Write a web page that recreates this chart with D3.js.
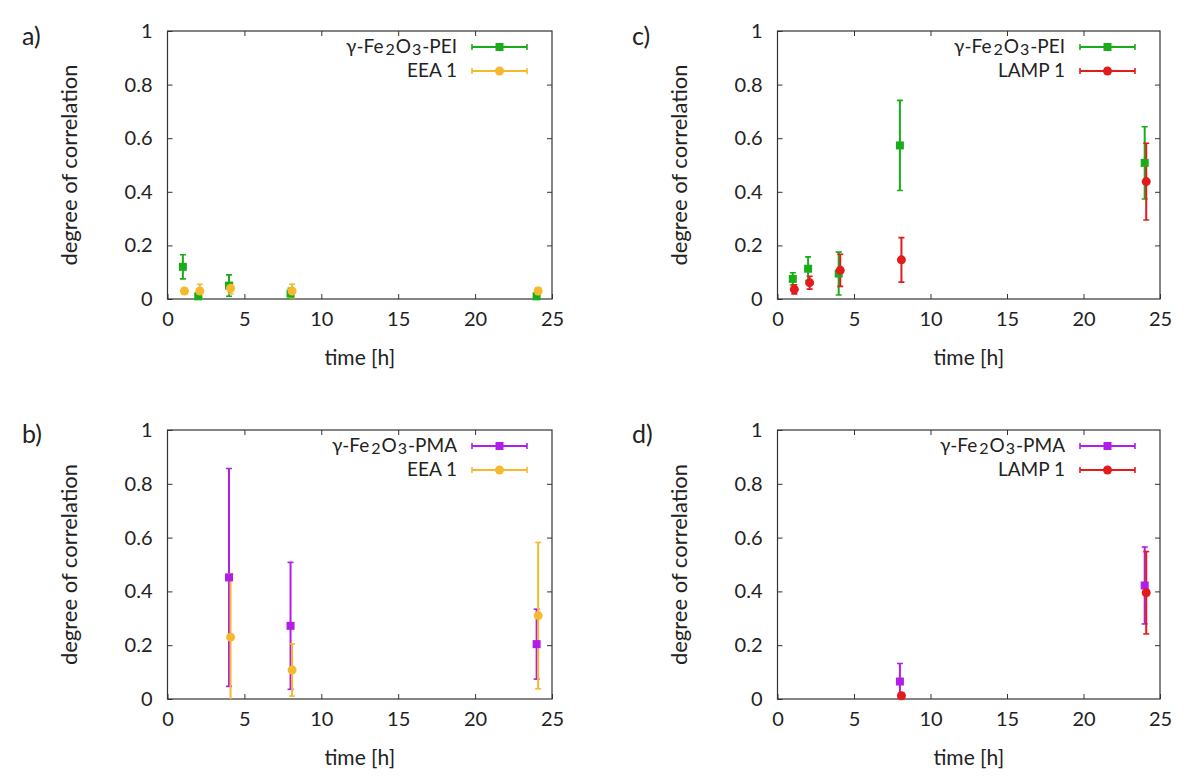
<!DOCTYPE html>
<html><head><meta charset="utf-8">
<script src="https://cdn.jsdelivr.net/npm/d3@7"></script>
<style>body{margin:0;background:#fff}svg{display:block}text{font-family:Lato,"Open Sans",sans-serif;fill:#222}</style>
</head><body><svg id="c" width="1200" height="777"></svg>
<script>
// ---- data ----
const xTicks = [0,5,10,15,20,25];
const yTicks = [0,0.2,0.4,0.6,0.8,1];
const yTickLabels = ["0","0.2","0.4","0.6","0.8","1"];

// panel a: PEI vs EEA 1
const aPEI_t = [1,2,4,8,24];
const aPEI_y = [0.12,0.01,0.05,0.02,0.01];
const aPEI_e = [0.045,0.012,0.04,0.02,0.012];
const aEEA_t = [1.1,2.1,4.1,8.1,24.1];
const aEEA_y = [0.03,0.03,0.04,0.03,0.03];
const aEEA_e = [0.01,0.025,0.02,0.025,0.012];

// panel b: PMA vs EEA 1
const bPMA_t = [4,8,24];
const bPMA_y = [0.452,0.272,0.204];
const bPMA_e = [0.405,0.236,0.13];
const bEEA_t = [4.1,8.1,24.1];
const bEEA_y = [0.23,0.108,0.31];
const bEEA_e = [0.235,0.097,0.272];

// panel c: PEI vs LAMP 1
const cPEI_t = [1,2,4,8,24];
const cPEI_y = [0.075,0.113,0.095,0.573,0.508];
const cPEI_e = [0.023,0.044,0.08,0.168,0.135];
const cLAMP_t = [1.1,2.1,4.1,8.1,24.1];
const cLAMP_y = [0.036,0.061,0.107,0.146,0.438];
const cLAMP_e = [0.017,0.024,0.06,0.083,0.143];

// panel d: PMA vs LAMP 1
const dPMA_t = [8,24];
const dPMA_y = [0.065,0.422];
const dPMA_e = [0.067,0.143];
const dLAMP_t = [8.1,24.1];
const dLAMP_y = [0.012,0.395];
const dLAMP_e = [0.01,0.153];

const COL = {green:"#1aad1a", yellow:"#f6b92e", purple:"#b01ee8", red:"#e21b1b"};

const svg = d3.select("#c");

function series(t,y,e,color,shape,name){
  return {pts:t.map((d,i)=>({t:d,y:y[i],e:e[i]})),color,shape,name};
}

const panels = [
  {label:"a)", box:[167.5,31,552,299], lx:22, ly:45,
   s:[series(aPEI_t,aPEI_y,aPEI_e,COL.green,"sq","PEI"), series(aEEA_t,aEEA_y,aEEA_e,COL.yellow,"ci","EEA 1")]},
  {label:"b)", box:[167.5,430,552,699], lx:22, ly:443,
   s:[series(bPMA_t,bPMA_y,bPMA_e,COL.purple,"sq","PMA"), series(bEEA_t,bEEA_y,bEEA_e,COL.yellow,"ci","EEA 1")]},
  {label:"c)", box:[777.5,31,1160,299], lx:632, ly:45,
   s:[series(cPEI_t,cPEI_y,cPEI_e,COL.green,"sq","PEI"), series(cLAMP_t,cLAMP_y,cLAMP_e,COL.red,"ci","LAMP 1")]},
  {label:"d)", box:[777.5,430,1160,699], lx:632, ly:443,
   s:[series(dPMA_t,dPMA_y,dPMA_e,COL.purple,"sq","PMA"), series(dLAMP_t,dLAMP_y,dLAMP_e,COL.red,"ci","LAMP 1")]}
];

function marker(g,shape,color,cx,cy){
  if(shape==="sq"){
    g.append("rect").attr("x",cx-4).attr("y",cy-4).attr("width",8).attr("height",8).attr("fill",color);
  } else {
    g.append("circle").attr("cx",cx).attr("cy",cy).attr("r",4.5).attr("fill",color);
  }
}

panels.forEach((p,pi)=>{
  const [x0,y0,x1,y1] = p.box;
  const x = d3.scaleLinear().domain([0,25]).range([x0,x1]);
  const y = d3.scaleLinear().domain([0,1]).range([y1,y0]);
  const g = svg.append("g");

  // panel letter
  g.append("text").attr("x",p.lx).attr("y",p.ly).attr("font-size",25).text(p.label);

  // axes with inward ticks on all sides
  const fs = 20;
  const ax = g.append("g").attr("transform",`translate(0,${y1})`)
    .call(d3.axisBottom(x).tickValues(xTicks).tickSize(-5).tickPadding(13).tickFormat(d3.format("d")));
  const axT = g.append("g").attr("transform",`translate(0,${y0})`)
    .call(d3.axisTop(x).tickValues(xTicks.slice(1,-1)).tickSize(-5).tickFormat(""));
  const ay = g.append("g").attr("transform",`translate(${x0},0)`)
    .call(d3.axisLeft(y).tickValues(yTicks).tickSize(-5).tickPadding(15).tickFormat((d,i)=>yTickLabels[i]));
  const ayR = g.append("g").attr("transform",`translate(${x1},0)`)
    .call(d3.axisRight(y).tickValues(yTicks.slice(1,-1)).tickSize(-5).tickFormat(""));
  [ax,axT,ay,ayR].forEach(a=>{
    a.select(".domain").remove();
    a.selectAll("line").attr("stroke","#333").attr("stroke-width",1);
    a.selectAll("text").attr("font-size",fs).attr("font-family","Lato, 'Open Sans', sans-serif").attr("fill","#222");
  });
  g.append("rect").attr("x",x0).attr("y",y0).attr("width",x1-x0).attr("height",y1-y0)
    .attr("fill","none").attr("stroke","#333").attr("stroke-width",1.2);

  // axis titles
  g.append("text").attr("x",(x0+x1)/2).attr("y",y1+66).attr("text-anchor","middle").attr("font-size",21).text("time [h]");
  g.append("text").attr("transform",`translate(${x0-91},${(y0+y1)/2}) rotate(-90)`)
    .attr("text-anchor","middle").attr("font-size",22).text("degree of correlation");

  // clip
  const cid = "clip"+pi;
  svg.append("clipPath").attr("id",cid).append("rect").attr("x",x0).attr("y",y0).attr("width",x1-x0).attr("height",y1-y0);
  const plot = g.append("g");
  const bars = plot.append("g").attr("clip-path",`url(#${cid})`);

  p.s.forEach(s=>{
    s.pts.forEach(d=>{
      const cx = x(d.t), ytop = y(d.y+d.e), ybot = y(Math.max(d.y-d.e,-0.05));
      bars.append("line").attr("x1",cx).attr("x2",cx).attr("y1",ytop).attr("y2",ybot)
        .attr("stroke",s.color).attr("stroke-width",2);
      bars.append("line").attr("x1",cx-3).attr("x2",cx+3).attr("y1",ytop).attr("y2",ytop)
        .attr("stroke",s.color).attr("stroke-width",1.6);
      bars.append("line").attr("x1",cx-3).attr("x2",cx+3).attr("y1",y(d.y-d.e)).attr("y2",y(d.y-d.e))
        .attr("stroke",s.color).attr("stroke-width",1.6);
    });
    s.pts.forEach(d=>marker(plot,s.shape,s.color,x(d.t),y(d.y)));
  });

  // legend
  p.s.forEach((s,i)=>{
    const ly = y0 + 16 + i*24;
    const tx = x1 - 95;
    const t = g.append("text").attr("x",tx).attr("y",ly+6).attr("text-anchor","end").attr("font-size",19);
    if(s.shape==="sq"){
      t.append("tspan").text("γ-Fe");
      t.append("tspan").attr("dx",2).attr("dy",2).attr("font-size",16).text("2");
      t.append("tspan").attr("dx",1).attr("dy",-2).text("O");
      t.append("tspan").attr("dx",1).attr("dy",2).attr("font-size",16).text("3");
      t.append("tspan").attr("dx",1).attr("dy",-2).text("-"+s.name);
    } else t.text(s.name);
    const lx0 = x1-80, lx1 = x1-25;
    g.append("line").attr("x1",lx0).attr("x2",lx1).attr("y1",ly).attr("y2",ly).attr("stroke",s.color).attr("stroke-width",2);
    [lx0,lx1].forEach(xx=>g.append("line").attr("x1",xx).attr("x2",xx).attr("y1",ly-3).attr("y2",ly+3).attr("stroke",s.color).attr("stroke-width",1.6));
    marker(g,s.shape,s.color,(lx0+lx1)/2,ly);
  });
});
</script></body></html>
